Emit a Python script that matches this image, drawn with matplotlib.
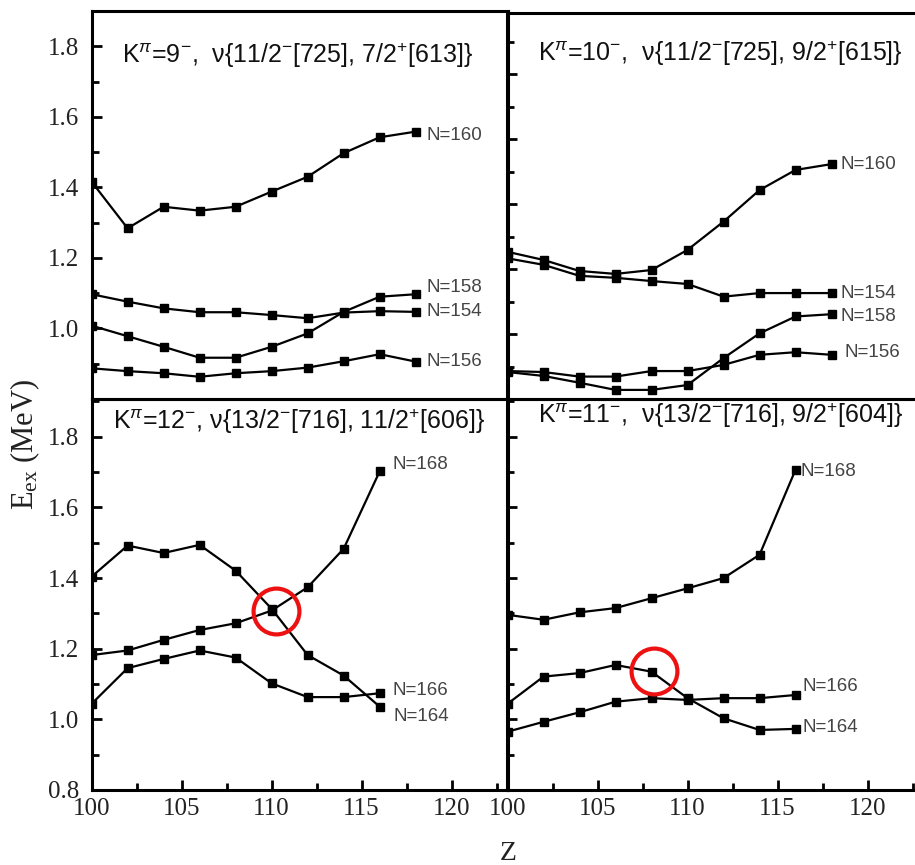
import matplotlib
matplotlib.use("Agg")
import matplotlib.pyplot as plt
from matplotlib.ticker import MultipleLocator

plt.rcParams['mathtext.fontset'] = 'custom'
plt.rcParams['mathtext.rm'] = 'Liberation Sans'
plt.rcParams['mathtext.it'] = 'Liberation Sans:italic'
plt.rcParams['mathtext.bf'] = 'Liberation Sans:bold'

# ---------------- data ----------------
Z_top = [100, 102, 104, 106, 108, 110, 112, 114, 116, 118]
Z_bot = [100, 102, 104, 106, 108, 110, 112, 114, 116]

# K=9- (top left)
tl_N160 = [1.416, 1.284, 1.345, 1.334, 1.345, 1.388, 1.430, 1.497, 1.542, 1.558]
tl_N154 = [1.097, 1.076, 1.057, 1.046, 1.046, 1.038, 1.029, 1.045, 1.049, 1.047]
tl_N158 = [1.008, 0.978, 0.948, 0.917, 0.917, 0.948, 0.986, 1.047, 1.090, 1.097]
tl_N156 = [0.887, 0.879, 0.873, 0.863, 0.873, 0.879, 0.889, 0.907, 0.927, 0.906]

# K=10- (top right)
tr_N160 = [1.253, 1.228, 1.194, 1.185, 1.197, 1.259, 1.346, 1.443, 1.505, 1.523]
tr_N154 = [1.233, 1.213, 1.179, 1.173, 1.163, 1.154, 1.115, 1.126, 1.126, 1.126]
tr_N158 = [0.883, 0.871, 0.850, 0.828, 0.828, 0.843, 0.926, 1.002, 1.054, 1.061]
tr_N156 = [0.886, 0.883, 0.869, 0.869, 0.886, 0.886, 0.905, 0.936, 0.944, 0.936]

# K=12- (bottom left)
bl_N168 = [1.182, 1.195, 1.225, 1.253, 1.272, 1.308, 1.374, 1.483, 1.702]
bl_N164 = [1.404, 1.492, 1.471, 1.494, 1.421, 1.313, 1.182, 1.124, 1.036]
bl_N166 = [1.044, 1.145, 1.171, 1.195, 1.175, 1.102, 1.063, 1.063, 1.074]

# K=11- (bottom right)
br_N168 = [1.296, 1.282, 1.303, 1.315, 1.343, 1.371, 1.400, 1.466, 1.707]
br_N164 = [1.044, 1.121, 1.131, 1.154, 1.135, 1.060, 1.003, 0.970, 0.973]
br_N166 = [0.965, 0.993, 1.020, 1.050, 1.060, 1.055, 1.060, 1.060, 1.069]

titles = [
    r"K$^{\pi}$=9$^{-}$,  ν{11/2$^{-}$[725], 7/2$^{+}$[613]}",
    r"K$^{\pi}$=10$^{-}$,  ν{11/2$^{-}$[725], 9/2$^{+}$[615]}",
    r"K$^{\pi}$=12$^{-}$, ν{13/2$^{-}$[716], 11/2$^{+}$[606]}",
    r"K$^{\pi}$=11$^{-}$,  ν{13/2$^{-}$[716], 9/2$^{+}$[604]}",
]

# label anchors (Z, E) for the N= labels
tl_labels = [("N=160", 118.6, 1.546), ("N=158", 118.6, 1.115),
             ("N=154", 118.6, 1.047), ("N=156", 118.6, 0.906)]
tr_labels = [("N=160", 118.5, 1.523), ("N=154", 118.5, 1.126),
             ("N=158", 118.5, 1.054), ("N=156", 118.7, 0.944)]
bl_labels = [("N=168", 116.7, 1.721), ("N=166", 116.7, 1.083),
             ("N=164", 116.75, 1.008)]
br_labels = [("N=168", 116.25, 1.702), ("N=166", 116.4, 1.093),
             ("N=164", 116.4, 0.976)]

# highlighted crossing points
bl_circle = (110.24, 1.308)
br_circle = (108.14, 1.138)

# ---------------- figure ----------------
W, H = 915, 865
fig = plt.figure(figsize=(W / 100, H / 100), dpi=100)

def px_axes(x0, y_top, x1, y_bot):
    return fig.add_axes([x0 / W, 1 - y_bot / H, (x1 - x0) / W, (y_bot - y_top) / H])

ax_tl = px_axes(91.6, 11, 507.5, 399)
ax_tr = px_axes(507.5, 13, 923.4, 399)
ax_bl = px_axes(91.6, 399, 507.5, 790)
ax_br = px_axes(507.5, 399, 923.4, 790)

ylims = {ax_tl: (0.8, 1.9), ax_tr: (0.8, 1.988), ax_bl: (0.8, 1.907), ax_br: (0.8, 1.907)}

serif = 'Liberation Serif'
for ax in (ax_tl, ax_tr, ax_bl, ax_br):
    ax.set_xlim(100, 123.1)
    ax.set_ylim(*ylims[ax])
    ax.set_facecolor('none')
    for s in ax.spines.values():
        s.set_linewidth(2.2)
    ax.xaxis.set_major_locator(MultipleLocator(5))
    ax.xaxis.set_minor_locator(MultipleLocator(2.5))
    ax.yaxis.set_major_locator(MultipleLocator(0.2))
    ax.yaxis.set_minor_locator(MultipleLocator(0.1))
    ax.tick_params(which='both', direction='in', top=False, right=False, width=2)
    ax.tick_params(which='major', length=7.2)
    ax.tick_params(which='minor', length=5.2)
    ax.tick_params(axis='y', pad=9, labelsize=18, labelcolor='#222222')
    ax.tick_params(axis='x', pad=6, labelsize=18, labelcolor='#222222')

for ax in (ax_tl, ax_tr):
    ax.tick_params(axis='x', which='both', bottom=False, labelbottom=False)
for ax in (ax_tr, ax_br):
    ax.tick_params(axis='y', which='both', labelleft=False)

ax_tl.set_yticks([1.0, 1.2, 1.4, 1.6, 1.8])
ax_bl.set_yticks([0.8, 1.0, 1.2, 1.4, 1.6, 1.8])
ax_tr.set_yticks([1.0, 1.2, 1.4, 1.6, 1.8])
for ax in (ax_tl, ax_tr, ax_bl, ax_br):
    for lab in ax.get_yticklabels() + ax.get_xticklabels():
        lab.set_fontfamily(serif)

line_kw = dict(color='black', lw=1.6, marker='s', ms=5.5, mfc='black', mec='black')

for ser in (tl_N160, tl_N154, tl_N158, tl_N156):
    ax_tl.plot(Z_top, ser, **line_kw)
for ser in (tr_N160, tr_N154, tr_N158, tr_N156):
    ax_tr.plot(Z_top, ser, **line_kw)
for ser in (bl_N168, bl_N164, bl_N166):
    ax_bl.plot(Z_bot, ser, **line_kw)
for ser in (br_N168, br_N164, br_N166):
    ax_br.plot(Z_bot, ser, **line_kw)

for ax, labs in ((ax_tl, tl_labels), (ax_tr, tr_labels), (ax_bl, bl_labels), (ax_br, br_labels)):
    for t, zx, ey in labs:
        ax.text(zx, ey, t, ha='left', va='center', fontsize=13.5,
                color='#444444', family='Liberation Sans')

title_pos = [(ax_tl, 121.7, 55), (ax_tr, 538, 53), (ax_bl, 113, 421.7), (ax_br, 538, 415)]
for (ax, xp, yp), t in zip(title_pos, titles):
    fig.text(xp / W, 1 - yp / H, t, ha='left', va='center', fontsize=18,
             family='Liberation Sans', color='#111111')

for ax, (cz, ce) in ((ax_bl, bl_circle), (ax_br, br_circle)):
    ax.plot([cz], [ce], marker='o', ms=33, mfc='none', mec='#ee1111', mew=3, zorder=5)

fig.text(25 / W, 1 - 444 / H, r"E$\mathregular{_{ex}}$ (MeV)", rotation=90,
         ha='center', va='center', fontsize=22, family=serif, color='#222222')
fig.text(508 / W, 1 - 854 / H, "Z", ha='center', va='center', fontsize=20,
         family=serif, color='#222222')

fig.savefig("out.png", dpi=100)
